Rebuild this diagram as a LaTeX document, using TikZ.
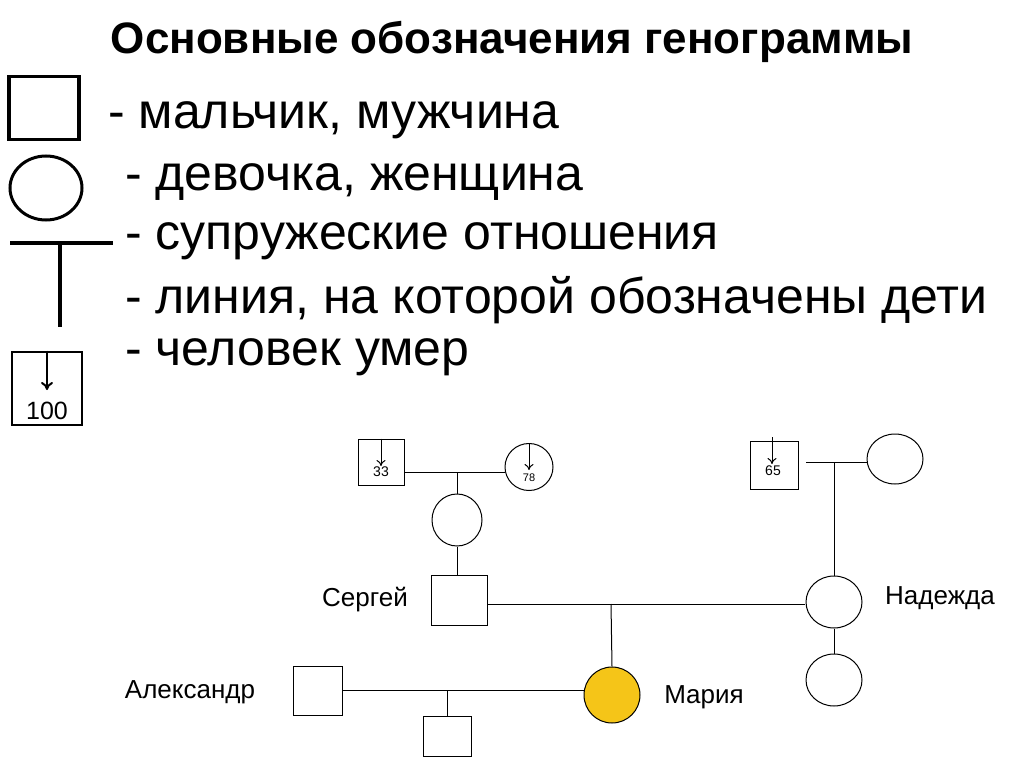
\documentclass[tikz,border=0pt]{standalone}
\usepackage{fontspec}
\setmainfont{Liberation Sans}
\usetikzlibrary{shapes.geometric,arrows.meta}
\begin{document}
\begin{tikzpicture}[x=1pt,y=-1pt,
  sq/.style={draw,line width=1pt,minimum width=#1,minimum height=#1,inner sep=0pt},
  el/.style={draw,line width=1pt,ellipse,inner sep=0pt},
  ln/.style={line width=1pt},
  dar/.style={line width=1pt,-{To[length=6pt,width=9pt]}},
  big/.style={font=\fontsize{50}{54}\selectfont,anchor=west,inner sep=0pt},
  lab/.style={font=\fontsize{26}{28}\selectfont,inner sep=0pt},
  num/.style={font=\fontsize{14}{16}\selectfont,inner sep=0pt}]
\useasboundingbox (0,0) rectangle (1024,767);
\node[font=\bfseries\fontsize{44}{48}\selectfont] (title) at (512,42) {Основные обозначения генограммы};
% legend
\node[draw,line width=3.5pt,minimum width=70,minimum height=63,inner sep=0] (lsq) at (44,108) {};
\node[draw,line width=3pt,ellipse,minimum width=72,minimum height=64,inner sep=0] (lci) at (46,188) {};
\coordinate (tl) at (10,243); \coordinate (tr) at (113,243);
\coordinate (tt) at (60,243); \coordinate (tb) at (60,327);
\draw[line width=4pt] (tl)--(tr); \draw[line width=4pt] (tt)--(tb);
\node[draw,line width=2pt,minimum width=70,minimum height=73,inner sep=0] (ld) at (47,388) {};
\node[font=\fontsize{25}{27}\selectfont,inner sep=0] (l100) at (47,411) {100};
\draw[line width=2pt,-{To[length=8pt,width=12pt]}] (ld.north) -- (47,390);
\node[big] (t1) at (108,120) {- мальчик, мужчина};
\node[big] (t2) at (125,182) {- девочка, женщина};
\node[big] (t3) at (125,241) {- супружеские отношения};
\node[big] (t4) at (125,300) {- линия, на которой обозначены дети};
\node[big] (t5) at (125,357) {- человек умер};
% left grandparents
\node[sq=46] (g1) at (381,462) {};
\node[num] at (381,472) {33};
\draw[dar] (g1.north) -- (381,466);
\node[el,minimum width=48,minimum height=47] (g2) at (529,467) {};
\node[num,font=\fontsize{11}{12}\selectfont] at (529,478) {78};
\draw[dar] (g2.north) -- (529,470);
\draw[ln] (g1.east |- 0,472) coordinate (a1) -- (g2.west |- 0,472) coordinate (a2);
\coordinate (m1) at (457,472);
\node[el,minimum width=50,minimum height=52] (mom) at (457,520) {};
\draw[ln] (m1) -- (mom.north);
\node[sq=50,minimum width=56] (ser) at (459,600) {};
\draw[ln] (mom.south) -- (ser.north -| mom.south);
% right grandparents
\node[sq=48] (g3) at (774,465) {};
\node[num] at (773,471) {65};
\draw[dar] (772,437) -- (772,464);
\node[el,minimum width=56,minimum height=50] (g4) at (895,459) {};
\coordinate (a3) at (806,462);
\draw[ln] (a3) -- (g4.west |- a3);
\coordinate (m2) at (834,462);
\node[el,minimum width=56,minimum height=52] (nad) at (834,602) {};
\draw[ln] (m2) -- (nad.north);
\node[el,minimum width=56,minimum height=52] (sis) at (834,680) {};
\draw[ln] (nad.south) -- (sis.north);
% Sergei - Nadezhda
\draw[ln] (ser.east |- 0,604) -- (805,604);
\coordinate (m3) at (611,604);
\node[el,fill={rgb,255:red,245;green,197;blue,24},minimum width=56,minimum height=56] (mar) at (612,695) {};
\draw[ln] (m3) -- (mar.north);
% Alexander
\node[sq=49] (ale) at (318,691) {};
\draw[ln] (ale.east |- 0,690) -- (mar.west |- 0,690);
\coordinate (m4) at (447,690);
\node[sq=40,minimum width=48] (kid) at (447,736) {};
\draw[ln] (m4) -- (kid.north);
% labels
\node[lab] at (365,600) {Сергей};
\node[lab] at (940,598) {Надежда};
\node[lab] at (190,692) {Александр};
\node[lab] at (704,697) {Мария};
\end{tikzpicture}
\end{document}
